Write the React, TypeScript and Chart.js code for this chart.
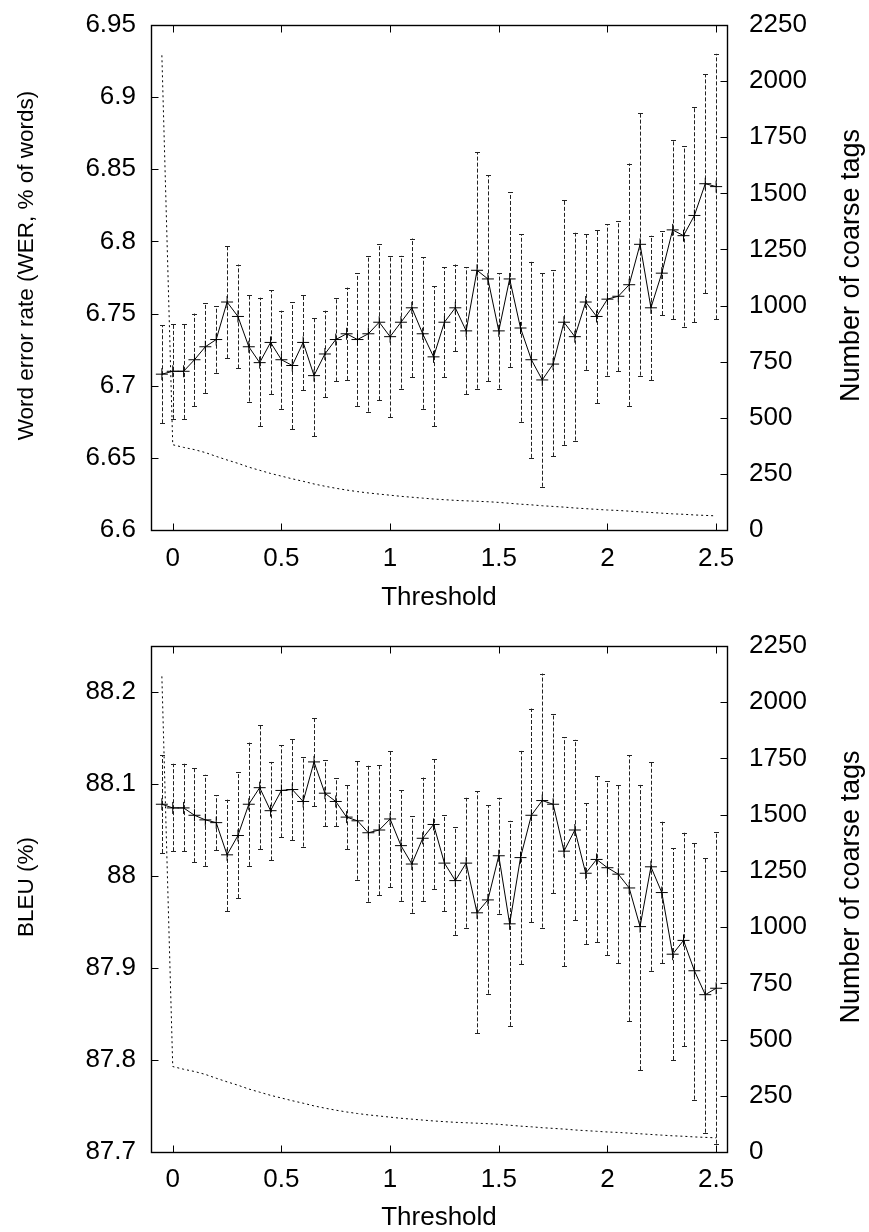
import React, { useEffect, useRef } from "react";
import { Chart, registerables } from "chart.js";

Chart.register(...registerables);

const FONT_FAMILY = '"Liberation Sans", Arial, Helvetica, sans-serif';
const TICK_SIZE = 26;
const LEFT_TITLE_SIZE = 22.5;
const RIGHT_TITLE_SIZE = 27;
const X_TITLE_SIZE = 26;

const thresholds = [
  -0.05, 0, 0.05, 0.1, 0.15, 0.2, 0.25, 0.3, 0.35, 0.4, 0.45, 0.5, 0.55, 0.6, 0.65, 0.7, 0.75, 0.8, 0.85,
  0.9, 0.95, 1, 1.05, 1.1, 1.15, 1.2, 1.25, 1.3, 1.35, 1.4, 1.45, 1.5, 1.55, 1.6, 1.65, 1.7, 1.75, 1.8,
  1.85, 1.9, 1.95, 2, 2.05, 2.1, 2.15, 2.2, 2.25, 2.3, 2.35, 2.4, 2.45, 2.5,
];

const werMean = [
  6.708, 6.71, 6.71, 6.718, 6.727, 6.732, 6.758, 6.748, 6.727, 6.716,
  6.73, 6.718, 6.714, 6.73, 6.707, 6.722, 6.732, 6.736, 6.732, 6.736,
  6.744, 6.734, 6.744, 6.754, 6.736, 6.72, 6.744, 6.754, 6.738, 6.78,
  6.774, 6.738, 6.774, 6.74, 6.718, 6.704, 6.715, 6.744, 6.734, 6.758,
  6.748, 6.76, 6.762, 6.77, 6.798, 6.754, 6.778, 6.808, 6.804, 6.818,
  6.84, 6.838,
];
const werHigh = [
  6.742, 6.743, 6.743, 6.75, 6.757, 6.755, 6.797, 6.784, 6.763, 6.761,
  6.766, 6.752, 6.758, 6.763, 6.747, 6.752, 6.761, 6.768, 6.778, 6.79,
  6.798, 6.79, 6.79, 6.802, 6.789, 6.769, 6.782, 6.784, 6.782, 6.862,
  6.846, 6.778, 6.834, 6.805, 6.786, 6.778, 6.78, 6.829, 6.806, 6.805,
  6.808, 6.812, 6.814, 6.854, 6.889, 6.804, 6.807, 6.87, 6.866, 6.893,
  6.916, 6.93,
];
const werLow = [
  6.674, 6.677, 6.677, 6.686, 6.695, 6.709, 6.719, 6.712, 6.689, 6.672,
  6.694, 6.684, 6.67, 6.697, 6.665, 6.692, 6.703, 6.704, 6.686, 6.682,
  6.69, 6.678, 6.698, 6.706, 6.684, 6.672, 6.706, 6.724, 6.694, 6.698,
  6.703, 6.698, 6.713, 6.675, 6.65, 6.63, 6.651, 6.659, 6.662, 6.711,
  6.688, 6.707, 6.71, 6.686, 6.707, 6.704, 6.749, 6.746, 6.741, 6.744,
  6.764, 6.746,
];

const bleuMean = [
  88.078, 88.074, 88.074, 88.066, 88.061, 88.058, 88.023, 88.044, 88.078, 88.096,
  88.071, 88.093, 88.094, 88.081, 88.124, 88.09, 88.081, 88.064, 88.06, 88.047,
  88.05, 88.062, 88.033, 88.013, 88.041, 88.056, 88.014, 87.995, 88.014, 87.96,
  87.974, 88.022, 87.948, 88.02, 88.066, 88.082, 88.078, 88.027, 88.05, 88.003,
  88.018, 88.009, 88.002, 87.987, 87.945, 88.01, 87.982, 87.915, 87.93, 87.897,
  87.871, 87.878,
];
const bleuHigh = [
  88.131, 88.122, 88.122, 88.117, 88.11, 88.088, 88.083, 88.113, 88.145, 88.164,
  88.124, 88.142, 88.149, 88.129, 88.172, 88.126, 88.106, 88.099, 88.125, 88.12,
  88.121, 88.136, 88.093, 88.065, 88.107, 88.127, 88.066, 88.053, 88.085, 88.092,
  88.077, 88.085, 88.06, 88.136, 88.182, 88.22, 88.176, 88.151, 88.148, 88.079,
  88.109, 88.103, 88.099, 88.131, 88.099, 88.124, 88.059, 88.03, 88.047, 88.036,
  88.02, 88.048,
];
const bleuLow = [
  88.025, 88.027, 88.027, 88.015, 88.011, 88.028, 87.962, 87.976, 88.011, 88.029,
  88.017, 88.042, 88.039, 88.032, 88.076, 88.054, 88.054, 88.029, 87.996, 87.972,
  87.979, 87.988, 87.973, 87.96, 87.973, 87.986, 87.962, 87.936, 87.944, 87.829,
  87.872, 87.959, 87.837, 87.904, 87.95, 87.944, 87.981, 87.902, 87.952, 87.926,
  87.928, 87.914, 87.905, 87.842, 87.789, 87.897, 87.905, 87.8, 87.815, 87.757,
  87.721, 87.709,
];

const coarseTags = [
  2115, 380, 368, 358, 345, 328, 312, 297, 280, 266, 252, 240, 228, 217, 205, 195, 186, 178, 171,
  165, 160, 155, 150, 146, 142, 138, 135, 132, 130, 128, 126, 123, 119, 115, 112, 108, 105, 102,
  98, 95, 92, 89, 87, 84, 81, 78, 75, 72, 70, 67, 65, 63,
];

const xTicks = [0, 0.5, 1, 1.5, 2, 2.5];
const xTickLabels = ["0", "0.5", "1", "1.5", "2", "2.5"];
const werTicks = [6.6, 6.65, 6.7, 6.75, 6.8, 6.85, 6.9, 6.95];
const werTickLabels = ["6.6", "6.65", "6.7", "6.75", "6.8", "6.85", "6.9", "6.95"];
const bleuTicks = [87.7, 87.8, 87.9, 88, 88.1, 88.2];
const bleuTickLabels = ["87.7", "87.8", "87.9", "88", "88.1", "88.2"];
const tagTicks = [0, 250, 500, 750, 1000, 1250, 1500, 1750, 2000, 2250];
const tagTickLabels = ["0", "250", "500", "750", "1000", "1250", "1500", "1750", "2000", "2250"];

const xTitle = "Threshold";
const rightTitle = "Number of coarse tags";

type PanelSpec = {
  mean: number[];
  low: number[];
  high: number[];
  yMin: number;
  yMax: number;
  yTicks: number[];
  yLabels: string[];
  leftTitle: string;
  padTop: number;
  xAxisHeight: number;
  xTickPadding: number;
  xTitleOffset: number;
};

function makeFramePlugin(p: PanelSpec) {
  return {
    id: "frame",
    beforeDatasetsDraw(chart: any) {
      const { ctx, chartArea: ca } = chart;
      const xs = chart.scales.x;
      const ys = chart.scales.y;
      ctx.save();
      ctx.beginPath();
      ctx.rect(ca.left, ca.top, ca.right - ca.left, ca.bottom - ca.top);
      ctx.clip();
      ctx.strokeStyle = "#222";
      ctx.lineWidth = 1;
      ctx.setLineDash([4, 2]);
      thresholds.forEach((t, i) => {
        const x = Math.round(xs.getPixelForValue(t)) + 0.5;
        const y1 = ys.getPixelForValue(p.low[i]);
        const y2 = ys.getPixelForValue(p.high[i]);
        ctx.beginPath();
        ctx.moveTo(x, y1);
        ctx.lineTo(x, y2);
        ctx.stroke();
      });
      ctx.setLineDash([]);
      thresholds.forEach((t, i) => {
        const x = Math.round(xs.getPixelForValue(t)) + 0.5;
        [p.low[i], p.high[i]].forEach((v) => {
          const y = Math.round(ys.getPixelForValue(v)) + 0.5;
          ctx.beginPath();
          ctx.moveTo(x - 2.5, y);
          ctx.lineTo(x + 2.5, y);
          ctx.stroke();
        });
      });
      ctx.restore();
    },
    afterDraw(chart: any) {
      const { ctx, chartArea: ca } = chart;
      const xs = chart.scales.x;
      const ys = chart.scales.y;
      const y2s = chart.scales.y2;
      const L = Math.round(ca.left) + 0.5;
      const R = Math.round(ca.right) + 0.5;
      const T = Math.round(ca.top) + 0.5;
      const B = Math.round(ca.bottom) + 0.5;
      const tl = 7;
      ctx.save();
      ctx.strokeStyle = "#000";
      ctx.lineWidth = 1;
      ctx.setLineDash([]);
      ctx.beginPath();
      xTicks.forEach((v) => {
        const x = Math.round(xs.getPixelForValue(v)) + 0.5;
        ctx.moveTo(x, B);
        ctx.lineTo(x, B - tl);
        ctx.moveTo(x, T);
        ctx.lineTo(x, T + tl);
      });
      p.yTicks.forEach((v) => {
        const y = Math.round(ys.getPixelForValue(v)) + 0.5;
        ctx.moveTo(L, y);
        ctx.lineTo(L + tl, y);
      });
      tagTicks.forEach((v) => {
        const y = Math.round(y2s.getPixelForValue(v)) + 0.5;
        ctx.moveTo(R, y);
        ctx.lineTo(R - tl, y);
      });
      ctx.stroke();
      ctx.lineWidth = 1.4;
      ctx.strokeRect(L, T, R - L, B - T);

      ctx.fillStyle = "#000";
      ctx.textAlign = "center";
      ctx.textBaseline = "middle";
      const midY = (ca.top + ca.bottom) / 2 - 12;
      ctx.save();
      ctx.font = `${LEFT_TITLE_SIZE}px ${FONT_FAMILY}`;
      ctx.translate(27, midY);
      ctx.rotate(-Math.PI / 2);
      ctx.fillText(p.leftTitle, 0, 0);
      ctx.restore();
      ctx.save();
      ctx.font = `${RIGHT_TITLE_SIZE}px ${FONT_FAMILY}`;
      ctx.translate(852, midY);
      ctx.rotate(-Math.PI / 2);
      ctx.fillText(rightTitle, 0, 0);
      ctx.restore();
      ctx.font = `${X_TITLE_SIZE}px ${FONT_FAMILY}`;
      ctx.fillText(xTitle, (ca.left + ca.right) / 2, ca.bottom + p.xTitleOffset);
      ctx.restore();
    },
  };
}

function zeroPad(s: any) {
  s.paddingTop = 0;
  s.paddingBottom = 0;
  s.paddingLeft = 0;
  s.paddingRight = 0;
}

function buildConfig(p: PanelSpec): any {
  const font = { family: FONT_FAMILY, size: TICK_SIZE };
  return {
    type: "line",
    data: {
      datasets: [
        {
          label: "mean",
          data: thresholds.map((t, i) => ({ x: t, y: p.mean[i] })),
          yAxisID: "y",
          borderColor: "#000",
          borderWidth: 1,
          pointStyle: "cross",
          pointRadius: 6,
          pointBorderColor: "#000",
          pointBackgroundColor: "#000",
          pointBorderWidth: 1,
          tension: 0,
          fill: false,
        },
        {
          label: "tags",
          data: thresholds.map((t, i) => ({ x: t, y: coarseTags[i] })),
          yAxisID: "y2",
          borderColor: "#000",
          borderWidth: 1,
          borderDash: [2, 3],
          pointRadius: 0,
          tension: 0,
          fill: false,
        },
      ],
    },
    options: {
      responsive: false,
      animation: false,
      devicePixelRatio: 1,
      events: [],
      layout: { padding: { top: p.padTop, left: 0, right: 0, bottom: 0 } },
      plugins: { legend: { display: false }, tooltip: { enabled: false } },
      scales: {
        x: {
          type: "linear",
          position: "bottom",
          min: -0.1,
          max: 2.55,
          afterBuildTicks: (s: any) => {
            s.ticks = xTicks.map((v) => ({ value: v }));
          },
          afterFit: (s: any) => {
            s.height = p.xAxisHeight;
            zeroPad(s);
          },
          grid: { display: false, drawTicks: false },
          border: { display: false },
          ticks: {
            callback: (_v: any, i: number) => xTickLabels[i],
            font,
            color: "#000",
            padding: p.xTickPadding,
            maxRotation: 0,
            autoSkip: false,
          },
        },
        y: {
          type: "linear",
          position: "left",
          min: p.yMin,
          max: p.yMax,
          afterBuildTicks: (s: any) => {
            s.ticks = p.yTicks.map((v) => ({ value: v }));
          },
          afterFit: (s: any) => {
            s.width = 151;
            zeroPad(s);
          },
          grid: { display: false, drawTicks: false },
          border: { display: false },
          ticks: {
            callback: (_v: any, i: number) => p.yLabels[i],
            font,
            color: "#000",
            padding: 15,
            autoSkip: false,
          },
        },
        y2: {
          type: "linear",
          position: "right",
          min: 0,
          max: 2250,
          afterBuildTicks: (s: any) => {
            s.ticks = tagTicks.map((v) => ({ value: v }));
          },
          afterFit: (s: any) => {
            s.width = 142;
            zeroPad(s);
          },
          grid: { display: false, drawTicks: false },
          border: { display: false },
          ticks: {
            callback: (_v: any, i: number) => tagTickLabels[i],
            font,
            color: "#000",
            padding: 22,
            autoSkip: false,
          },
        },
      },
    },
    plugins: [makeFramePlugin(p)],
  };
}

export default function App() {
  const topRef = useRef<HTMLCanvasElement>(null);
  const botRef = useRef<HTMLCanvasElement>(null);

  useEffect(() => {
    const c1 = new Chart(
      topRef.current as HTMLCanvasElement,
      buildConfig({
        mean: werMean,
        low: werLow,
        high: werHigh,
        yMin: 6.6,
        yMax: 6.95,
        yTicks: werTicks,
        yLabels: werTickLabels,
        leftTitle: "Word error rate (WER, % of words)",
        padTop: 25,
        xAxisHeight: 86,
        xTickPadding: 13,
        xTitleOffset: 68,
      })
    );
    const c2 = new Chart(
      botRef.current as HTMLCanvasElement,
      buildConfig({
        mean: bleuMean,
        low: bleuLow,
        high: bleuHigh,
        yMin: 87.7,
        yMax: 88.25,
        yTicks: bleuTicks,
        yLabels: bleuTickLabels,
        leftTitle: "BLEU (%)",
        padTop: 30,
        xAxisHeight: 80,
        xTickPadding: 12,
        xTitleOffset: 66,
      })
    );
    return () => {
      c1.destroy();
      c2.destroy();
    };
  }, []);

  return (
    <div
      style={{
        position: "absolute",
        left: 0,
        top: 0,
        width: 869,
        height: 1232,
        background: "#fff",
        overflow: "hidden",
      }}
    >
      <canvas
        ref={topRef}
        width={869}
        height={616}
        style={{ position: "absolute", left: 0, top: 0, width: 869, height: 616 }}
      />
      <canvas
        ref={botRef}
        width={869}
        height={616}
        style={{ position: "absolute", left: 0, top: 616, width: 869, height: 616 }}
      />
    </div>
  );
}
